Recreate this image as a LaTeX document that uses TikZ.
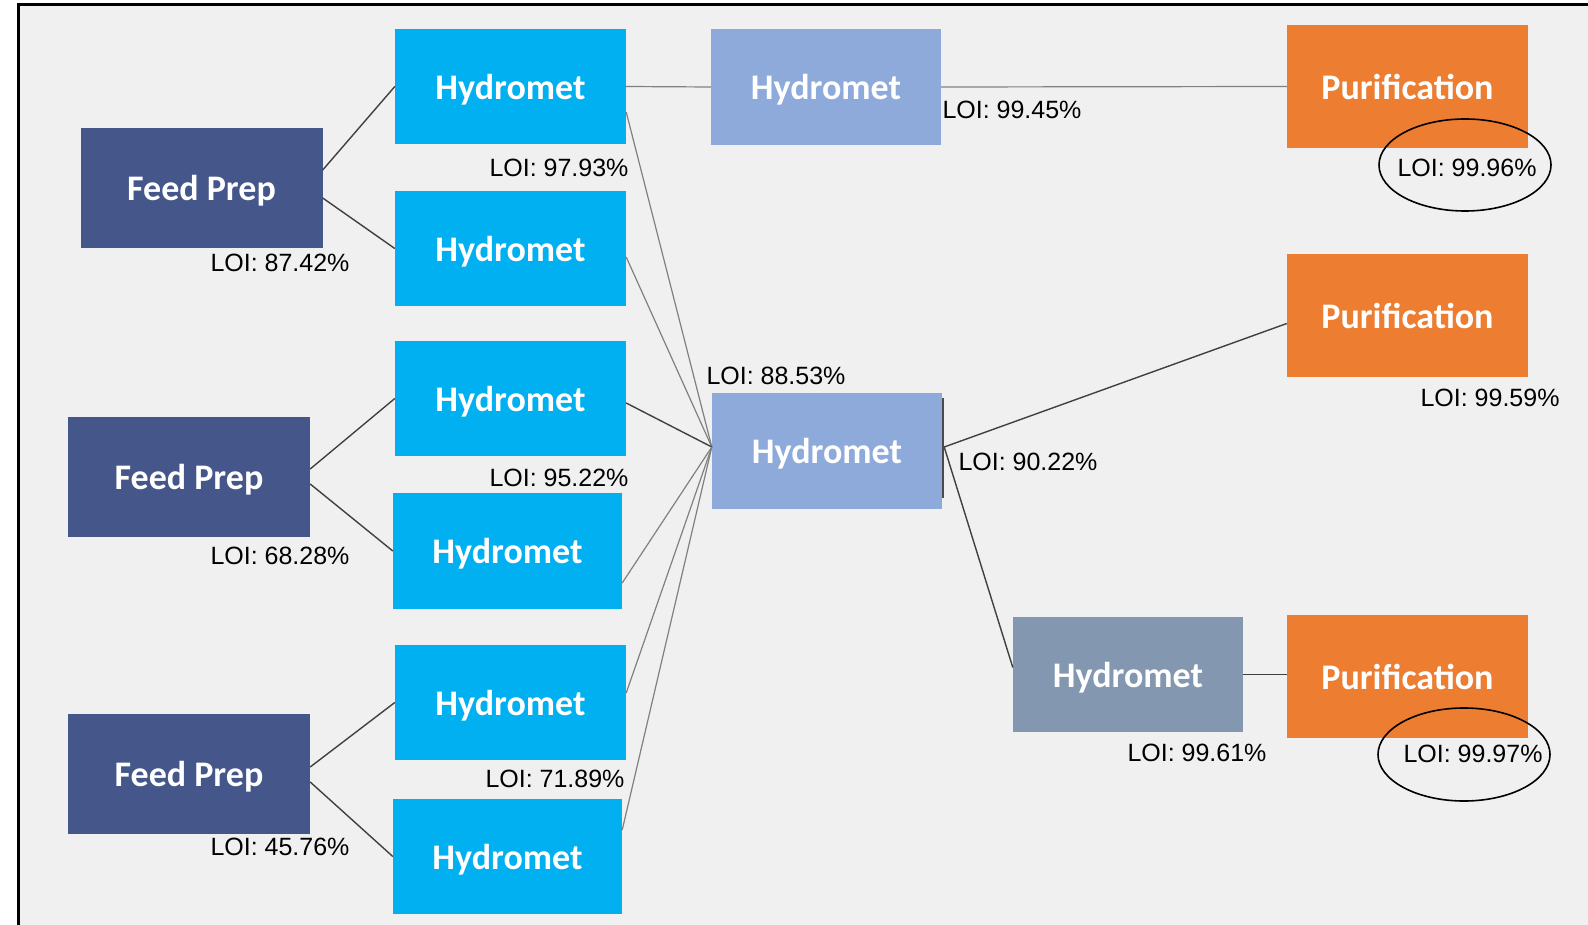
\documentclass[tikz,border=0pt]{standalone}
\usepackage{fontspec}
\setmainfont{Liberation Sans}
\newfontfamily\boxfont{Carlito}
\definecolor{bgc}{HTML}{F0F0F0}
\definecolor{feedc}{HTML}{44568A}
\definecolor{cyanc}{HTML}{00B0F0}
\definecolor{lbluec}{HTML}{8EAADB}
\definecolor{greyblc}{HTML}{8497B0}
\definecolor{orangec}{HTML}{ED7D31}
\begin{document}
\begin{tikzpicture}[x=1pt,y=-1pt,
  box/.style={rectangle, inner sep=0pt, text=white, text depth=0pt,
    font=\boxfont\bfseries\fontsize{36}{40}\selectfont},
  feedbox/.style={box, fill=feedc, minimum width=242pt, minimum height=120pt},
  cyanbox/.style={box, fill=cyanc, minimum width=231pt, minimum height=115pt},
  lbluebox/.style={box, fill=lbluec, minimum width=230pt, minimum height=116pt},
  greybox/.style={box, fill=greyblc, minimum width=230pt, minimum height=115pt},
  purbox/.style={box, fill=orangec, minimum width=241pt, minimum height=123pt},
  loi/.style={inner sep=0pt, text=black, font=\fontsize{25}{28}\selectfont},
  conn/.style={draw=black!75, line width=1.4pt},
  thinconn/.style={draw=black!50, line width=1.2pt},
  ring/.style={draw=black, line width=1.6pt}]
\useasboundingbox (0,0) rectangle (1588,925);
\fill[white] (0,0) rectangle (1588,925);
\fill[bgc] (18,5) rectangle (1588,925);
\draw[black, line width=3pt] (18,925) -- (18,5) -- (1588,5);

% boxes
\node[feedbox] (fp1) at (201.5,188) {Feed Prep};
\node[feedbox] (fp2) at (189,477) {Feed Prep};
\node[feedbox] (fp3) at (189,774) {Feed Prep};
\node[cyanbox] (h1) at (510.5,86.5) {Hydromet};
\node[cyanbox] (h2) at (510.5,248.5) {Hydromet};
\node[cyanbox] (h3) at (510.5,398.5) {Hydromet};
\node[cyanbox, minimum width=229pt, minimum height=116pt] (h4) at (507.5,551) {Hydromet};
\node[cyanbox] (h5) at (510.5,702.5) {Hydromet};
\node[cyanbox, minimum width=229pt] (h6) at (507.5,856.5) {Hydromet};
\node[lbluebox] (ht) at (826,87) {Hydromet};
\node[lbluebox] (hc) at (827,451) {Hydromet};
\node[greybox] (hg) at (1128,674.5) {Hydromet};
\node[purbox] (p1) at (1407.5,86.5) {Purification};
\node[purbox] (p2) at (1407.5,315.5) {Purification};
\node[purbox] (p3) at (1407.5,676.5) {Purification};
\draw[black!70, line width=2pt] ([xshift=1pt,yshift=-5pt]hc.north east) -- ([xshift=1pt,yshift=11pt]hc.south east);

% connectors
\draw[conn] ([yshift=18pt]fp1.east) -- (h1.west);
\draw[conn] ([yshift=-10pt]fp1.east) -- (h2.west);
\draw[conn] ([yshift=8pt]fp2.east) -- (h3.west);
\draw[conn] ([yshift=-7pt]fp2.east) -- (h4.west);
\draw[conn] ([yshift=7pt]fp3.east) -- (h5.west);
\draw[conn] ([yshift=-8pt]fp3.east) -- (h6.west);
\draw[thinconn] (h1.east) -- (ht.west);
\draw[thinconn] (ht.east) -- (p1.west);
\coordinate (cin) at ([yshift=4pt]hc.west);
\draw[thinconn] ([yshift=-25.5pt]h1.east) -- (cin);
\draw[thinconn] ([yshift=-8.5pt]h2.east) -- (cin);
\draw[conn] ([yshift=-4.5pt]h3.east) -- (cin);
\draw[thinconn] ([yshift=-32pt]h4.east) -- (cin);
\draw[thinconn] ([yshift=9.5pt]h5.east) -- (cin);
\draw[thinconn] ([yshift=26.5pt]h6.east) -- (cin);
\coordinate (cout) at ([xshift=2pt,yshift=4pt]hc.east);
\draw[conn] (cout) -- ([yshift=-8pt]p2.west);
\draw[conn] (cout) -- ([yshift=7pt]hg.west);
\draw[conn] (hg.east) -- (hg.east -| p3.west);

% labels
\node[loi] (l1) at (280,263) {LOI: 87.42\%};
\node[loi] (l2) at (559,168) {LOI: 97.93\%};
\node[loi] (l3) at (1012,110) {LOI: 99.45\%};
\node[loi] (l4) at (1467,168) {LOI: 99.96\%};
\node[loi] (l5) at (1490,398) {LOI: 99.59\%};
\node[loi] (l6) at (776,376) {LOI: 88.53\%};
\node[loi] (l7) at (559,478) {LOI: 95.22\%};
\node[loi] (l8) at (280,556) {LOI: 68.28\%};
\node[loi] (l9) at (1028,462) {LOI: 90.22\%};
\node[loi] (l10) at (555,779) {LOI: 71.89\%};
\node[loi] (l11) at (280,847) {LOI: 45.76\%};
\node[loi] (l12) at (1197,753) {LOI: 99.61\%};
\node[loi] (l13) at (1473,754) {LOI: 99.97\%};

% rings
\draw[ring] (1465,165) ellipse [x radius=86, y radius=46];
\draw[ring] (1464,754.5) ellipse [x radius=86, y radius=46.5];
\end{tikzpicture}
\end{document}
